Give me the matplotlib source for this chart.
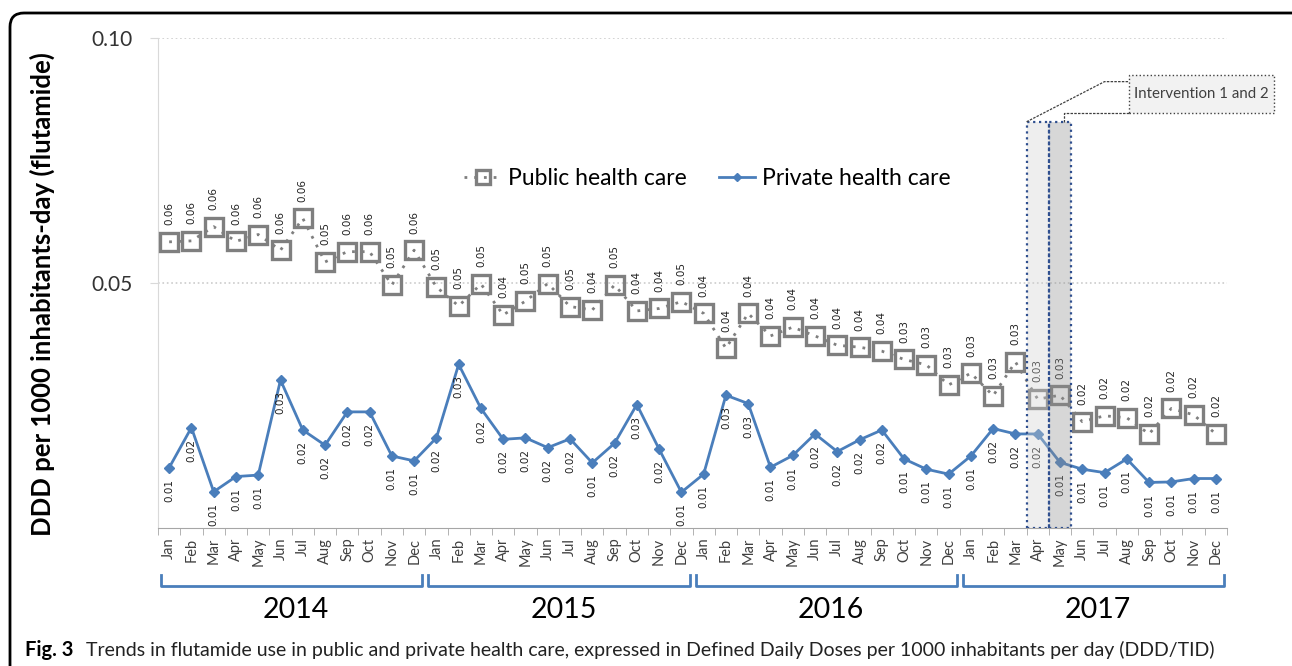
import numpy as np
import matplotlib.pyplot as plt
from matplotlib.patches import Rectangle, FancyBboxPatch
from matplotlib.transforms import IdentityTransform, blended_transform_factory

plt.rcParams['font.family'] = ['Lato', 'DejaVu Sans']

# data (DDD/TID, Jan 2014 .. Dec 2017)
months = ['Jan', 'Feb', 'Mar', 'Apr', 'May', 'Jun',
          'Jul', 'Aug', 'Sep', 'Oct', 'Nov', 'Dec']
years = ['2014', '2015', '2016', '2017']

public = [0.0584, 0.0586, 0.0615, 0.0585, 0.0599, 0.0567, 0.0632, 0.0543, 0.0564, 0.0564, 0.0496, 0.0567,
          0.0492, 0.0453, 0.0498, 0.0435, 0.0463, 0.0499, 0.0452, 0.0445, 0.0496, 0.0443, 0.0448, 0.0462,
          0.0438, 0.0367, 0.0438, 0.0392, 0.0410, 0.0392, 0.0373, 0.0369, 0.0361, 0.0344, 0.0333, 0.0292,
          0.0316, 0.0270, 0.0339, 0.0263, 0.0271, 0.0217, 0.0229, 0.0225, 0.0192, 0.0244, 0.0231, 0.0192]

private = [0.0123, 0.0205, 0.0074, 0.0105, 0.0108, 0.0302, 0.0200, 0.0169, 0.0237, 0.0237, 0.0147, 0.0137,
           0.0184, 0.0334, 0.0244, 0.0181, 0.0184, 0.0164, 0.0182, 0.0133, 0.0173, 0.0252, 0.0161, 0.0073,
           0.0110, 0.0271, 0.0254, 0.0124, 0.0148, 0.0192, 0.0156, 0.0180, 0.0200, 0.0141, 0.0120, 0.0110,
           0.0147, 0.0203, 0.0192, 0.0192, 0.0134, 0.0120, 0.0113, 0.0141, 0.0093, 0.0094, 0.0101, 0.0101]

# intervention months (Apr and May 2017)
interv_idx = [39, 40]
interv_top = 0.0829

gray = '#7f7f7f'
blue = '#4a7ebb'

fig = plt.figure(figsize=(12.92, 6.66), dpi=100)
ax = fig.add_axes([0.1223, 0.2072, 0.8274, 0.7357])

x = np.arange(len(public))

# series
ax.plot(x, public, color=gray, linestyle=(0, (1, 2.5)), lw=2,
        marker='s', ms=13.5, mfc='none', mec=gray, mew=2.4,
        label='Public health care', zorder=3)
ax.plot(x, private, color=blue, lw=2, marker='D', ms=5,
        label='Private health care', zorder=3)

# data labels
for i, v in enumerate(public):
    ax.annotate(f'{v:.2f}', (i, v), xytext=(0, 12), textcoords='offset points',
                rotation=90, ha='center', va='bottom', fontsize=7.5,
                family='DejaVu Sans', color='#222222')
for i, v in enumerate(private):
    ax.annotate(f'{v:.2f}', (i, v), xytext=(0, -8), textcoords='offset points',
                rotation=90, ha='center', va='top', fontsize=7.5,
                family='DejaVu Sans', color='#222222')

# intervention shading
shade_cols = ['#cfcfcf', '#8f8f8f']
for k, idx in enumerate(interv_idx):
    ax.add_patch(Rectangle((idx - 0.5, 0), 1, interv_top, facecolor=shade_cols[k],
                           alpha=0.35, edgecolor='none', zorder=4))
    ax.add_patch(Rectangle((idx - 0.5, 0), 1, interv_top, facecolor='none',
                           edgecolor='#2f4f8f', linestyle=':', lw=1.6, zorder=5))

# callout box
bx0, by0, bw, bh = 43.08, 0.0847, 6.52, 0.0077
ax.add_patch(Rectangle((bx0, by0), bw, bh, facecolor='#f2f2f2', edgecolor='#404040',
                       linestyle=':', lw=1, clip_on=False, zorder=5))
ax.text(bx0 + bw / 2, by0 + bh / 2, 'Intervention 1 and 2', ha='center', va='center',
        fontsize=10.8, color='#404040', clip_on=False, zorder=6)
ax.plot([interv_idx[0] - 0.5, 42.0, bx0], [interv_top, 0.0911, 0.0911],
        color='#404040', lw=0.9, linestyle=(0, (2, 1)), clip_on=False, zorder=5)
ax.plot([40.16, 40.16, bx0], [interv_top, by0, by0],
        color='#404040', lw=0.9, linestyle=(0, (2, 1)), clip_on=False, zorder=5)

# axes styling
ax.set_xlim(-0.5, len(public) - 0.5)
ax.set_ylim(0, 0.1)
ax.set_yticks([0.05, 0.10])
ax.set_yticklabels(['0.05', '0.10'])
ax.yaxis.grid(True, color='#cccccc', linestyle=':', lw=1.2)
ax.tick_params(axis='y', length=6, color='#d9d9d9', pad=12, labelsize=15,
               labelcolor='#333333')
ax.set_xticks(x)
ax.set_xticklabels(months * len(years), rotation=90, fontsize=10.5, color='#404040')
ax.set_xticks(np.arange(-0.5, len(public), 1), minor=True)
ax.tick_params(axis='x', which='major', length=0, pad=7)
ax.tick_params(axis='x', which='minor', length=5, color='#a6a6a6')
for s in ['top', 'right']:
    ax.spines[s].set_visible(False)
ax.spines['left'].set_color('#d9d9d9')
ax.spines['bottom'].set_color('#a6a6a6')

# legend
ax.legend(loc='center', bbox_to_anchor=(0.514, 0.714), ncol=2, frameon=False,
          fontsize=16.5, handlelength=1.6, columnspacing=1.4, handletextpad=0.3,
          markerscale=0.75)

# year brackets
tr = blended_transform_factory(ax.transData, ax.transAxes)
for k, yr in enumerate(years):
    x0 = 12 * k - 0.36
    x1 = min(12 * k + 11.37, 47.48)
    ax.plot([x0, x0, x1, x1], [-0.096, -0.118, -0.118, -0.096], color=blue, lw=2,
            transform=tr, clip_on=False)
    ax.text((x0 + x1) / 2 + 0.2, -0.167, yr, transform=tr, ha='center', va='center',
            fontsize=20.5, color='black')

# y label
fig.text(0.0325, 0.558, 'DDD per 1000 inhabitants-day (flutamide)', rotation=90,
         ha='center', va='center', fontsize=18.5, fontweight='bold')

# caption
fig.text(25 / 1292, 0.024, 'Fig. 3', fontsize=14.5, fontweight='bold', ha='left', va='center')
fig.text(86 / 1292, 0.024, 'Trends in flutamide use in public and private health care, '
         'expressed in Defined Daily Doses per 1000 inhabitants per day (DDD/TID)',
         fontsize=14, ha='left', va='center', color='#222222')

# rounded frame around the figure
frame = FancyBboxPatch((10, -40), 1300, 693, boxstyle='round,pad=0,rounding_size=14',
                       transform=IdentityTransform(), facecolor='none',
                       edgecolor='black', lw=2, clip_on=False)
fig.patches.append(frame)

fig.savefig('out.png', dpi=100)
